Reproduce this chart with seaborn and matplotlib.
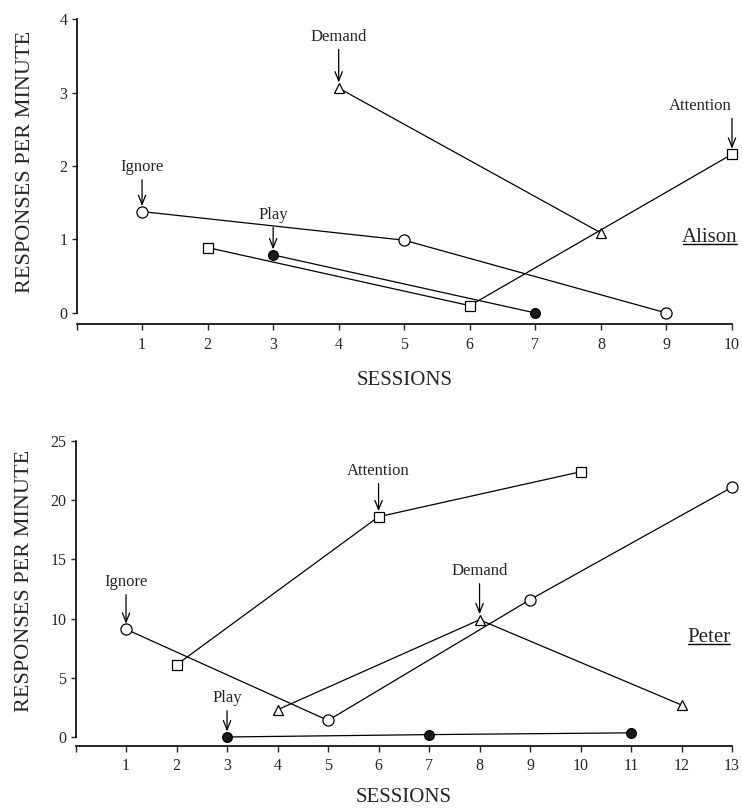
import matplotlib
matplotlib.use("Agg")
import matplotlib.pyplot as plt
import seaborn as sns
from matplotlib.lines import Line2D

sns.set_style("ticks")
plt.rcParams["font.family"] = ["Liberation Serif", "DejaVu Serif"]

# ---------------- data ----------------
conditions = ["Ignore", "Attention", "Demand", "Play"]

# Alison
alison_sessions = {
    "Ignore": [1, 5, 9],
    "Attention": [2, 6, 10],
    "Demand": [4, 8],
    "Play": [3, 7],
}
alison_rates = {
    "Ignore": [1.38, 0.99, 0.0],
    "Attention": [0.89, 0.10, 2.16],
    "Demand": [3.06, 1.09],
    "Play": [0.79, 0.0],
}
alison_label_point = {"Ignore": 0, "Attention": 2, "Demand": 0, "Play": 0}

# Peter
peter_sessions = {
    "Ignore": [1, 5, 9, 13],
    "Attention": [2, 6, 10],
    "Demand": [4, 8, 12],
    "Play": [3, 7, 11],
}
peter_rates = {
    "Ignore": [9.1, 1.4, 11.6, 21.1],
    "Attention": [6.1, 18.6, 22.4],
    "Demand": [2.3, 9.9, 2.7],
    "Play": [0.0, 0.2, 0.35],
}
peter_label_point = {"Ignore": 0, "Attention": 1, "Demand": 1, "Play": 0}

# ---------------- styles ----------------
marker_style = {
    "Ignore": dict(marker="o", markersize=8, markerfacecolor="white"),
    "Attention": dict(marker="s", markersize=7.5, markerfacecolor="white"),
    "Demand": dict(marker="^", markersize=7, markerfacecolor="white"),
    "Play": dict(marker="o", markersize=7, markerfacecolor="#1a1a1a"),
}

name_labels = []


def draw_panel(ax, sessions, rates, label_point, text_offsets, right_aligned,
               name, name_pos, n_sessions, ymax, ystep, ybottom, xlabel_y, ylabel_y):
    for cond in conditions:
        sns.lineplot(x=sessions[cond], y=rates[cond], ax=ax, color="black",
                     lw=0.9, markeredgecolor="black", markeredgewidth=0.9,
                     clip_on=False, zorder=3, **marker_style[cond])
        i = label_point[cond]
        ha = "right" if cond in right_aligned else "center"
        relpos = (1.0, 0.0) if cond in right_aligned else (0.5, 0.5)
        ax.annotate(cond, xy=(sessions[cond][i], rates[cond][i]),
                    xytext=(0, text_offsets[cond]), textcoords="offset points",
                    ha=ha, va="center", fontsize=12,
                    arrowprops=dict(arrowstyle="->,head_length=0.55,head_width=0.22",
                                    color="black", lw=0.9, shrinkA=1, shrinkB=4,
                                    mutation_scale=12, relpos=relpos))

    ax.set_xlim(0, n_sessions)
    ax.set_ylim(ybottom, ymax)
    ax.set_xticks(range(n_sessions + 1))
    ax.set_xticklabels([""] + [str(s) for s in range(1, n_sessions + 1)])
    ax.set_yticks(range(0, ymax + 1, ystep))

    sns.despine(ax=ax)
    ax.spines["left"].set_bounds(0, ymax)
    ax.spines["bottom"].set_bounds(0, n_sessions)
    for sp in ("left", "bottom"):
        ax.spines[sp].set_linewidth(1.2)
        ax.spines[sp].set_color("black")

    ax.tick_params(axis="x", length=4, width=1, pad=5, labelsize=11.5)
    ax.tick_params(axis="y", length=3.6, width=1, pad=3, labelsize=11.5)

    ax.set_xlabel("SESSIONS", fontsize=15)
    ax.set_ylabel("RESPONSES PER MINUTE", fontsize=16)
    ax.xaxis.set_label_coords(0.5, xlabel_y)
    ax.yaxis.set_label_coords(-0.063, ylabel_y)

    t = ax.text(name_pos[0], name_pos[1], name, transform=ax.transAxes,
                ha="right", va="center", fontsize=15)
    name_labels.append(t)


fig = plt.figure(figsize=(7.42, 8.09), dpi=100)
ax_top = fig.add_axes([0.1031, 0.5995, 0.8834, 0.377])
ax_bot = fig.add_axes([0.1018, 0.0779, 0.8848, 0.377])

draw_panel(ax_top, alison_sessions, alison_rates, alison_label_point,
           {"Ignore": 32, "Attention": 35, "Demand": 37, "Play": 29}, ["Attention"],
           "Alison", (1.009, 0.282), 10, 4, 1, -0.15, -0.154, 0.531)
draw_panel(ax_bot, peter_sessions, peter_rates, peter_label_point,
           {"Ignore": 34, "Attention": 33, "Demand": 35, "Play": 28}, [],
           "Peter", (0.998, 0.357), 13, 25, 5, -0.76, -0.138, 0.541)

# underline the names (matplotlib text has no underline option)
fig.canvas.draw()
renderer = fig.canvas.get_renderer()
for t in name_labels:
    bb = t.get_window_extent(renderer)
    inv = fig.transFigure.inverted()
    (x0, y0), (x1, _) = inv.transform([(bb.x0 + 1, bb.y0 + 3), (bb.x1 - 1, bb.y0)])
    fig.add_artist(Line2D([x0, x1], [y0, y0], color="black", lw=1.0,
                          transform=fig.transFigure))

fig.savefig("out.png", dpi=100)
